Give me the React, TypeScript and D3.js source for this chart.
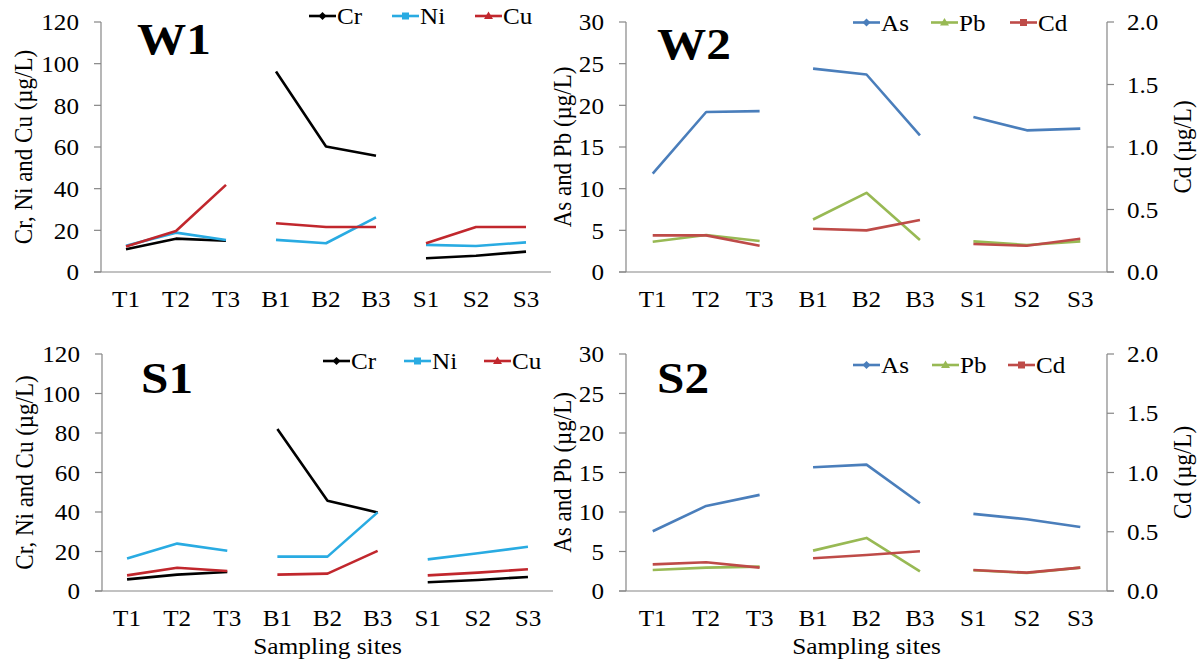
import React from "react";
import * as d3 from "d3";

const sites = ["T1", "T2", "T3", "B1", "B2", "B3", "S1", "S2", "S3"];

// W1 (µg/L)
const w1Cr = [10.9, 16.0, 15.0, 96.2, 60.2, 55.8, 6.6, 7.8, 9.8];
const w1Ni = [12.6, 18.9, 15.4, 15.4, 13.8, 26.2, 13.0, 12.5, 14.2];
const w1Cu = [12.2, 19.7, 41.8, 23.4, 21.6, 21.6, 13.8, 21.6, 21.6];
// W2
const w2As = [11.8, 19.2, 19.3, 24.4, 23.7, 16.4, 18.6, 17.0, 17.2];
const w2Pb = [3.64, 4.44, 3.72, 6.3, 9.5, 3.84, 3.68, 3.24, 3.68];
const w2Cd = [0.293, 0.293, 0.21, 0.346, 0.333, 0.416, 0.224, 0.21, 0.266];
// S1
const s1Cr = [5.9, 8.3, 9.6, 82.0, 45.7, 39.8, 4.4, 5.6, 7.1];
const s1Ni = [16.4, 24.0, 20.4, 17.4, 17.4, 39.8, 16.0, 19.1, 22.4];
const s1Cu = [7.9, 11.8, 10.1, 8.3, 8.8, 20.3, 7.9, 9.3, 11.0];
// S2
const s2As = [7.56, 10.77, 12.17, 15.67, 16.0, 11.1, 9.76, 9.08, 8.11];
const s2Pb = [2.66, 2.96, 3.08, 5.11, 6.72, 2.49, 2.62, 2.28, 2.96];
const s2Cd = [0.225, 0.242, 0.197, 0.276, 0.304, 0.335, 0.177, 0.155, 0.197];

const ticksCrNiCu = [0, 20, 40, 60, 80, 100, 120];
const ticksAsPb = [0, 5, 10, 15, 20, 25, 30];
const ticksCd = [0, 0.5, 1.0, 1.5, 2.0];

const FONT = "'Liberation Serif', 'Times New Roman', serif";
const AXIS = "#868686";
const SX = 1.07;
const FS = 23.5;

const C_CR = "#000000";
const C_NI = "#29ABE2";
const C_CU = "#C1272D";
const C_AS = "#4A7EBB";
const C_PB = "#98B954";
const C_CD = "#BE4B48";

type Series = { name: string; values: number[]; color: string; marker: string; axis: "left" | "right" };

function SText({ x, y, anchor = "start", size = FS, weight = "normal", sx = SX, children, dy = "0" }: any) {
  return (
    <text
      transform={`translate(${x},${y}) scale(${sx},1)`}
      textAnchor={anchor}
      fontFamily={FONT}
      fontSize={size}
      fontWeight={weight}
      dy={dy}
      fill="#000"
    >
      {children}
    </text>
  );
}

function Marker({ type, x, y, color }: any) {
  if (type === "diamond") {
    const r = 4;
    return <path d={`M${x},${y - r}L${x + r},${y}L${x},${y + r}L${x - r},${y}Z`} fill={color} />;
  }
  if (type === "square") {
    return <rect x={x - 3.5} y={y - 3.5} width={7} height={7} fill={color} />;
  }
  return <path d={`M${x},${y - 4.5}L${x + 4.5},${y + 3}L${x - 4.5},${y + 3}Z`} fill={color} />;
}

function Panel({ x0, x1, yTop, yBot, label, labelPos, series, leftTicks, leftMax, rightTicks, leftTitle, rightTitle, leftTitleX, rightTitleX, legendXs, legendY, showXTitle, leftTickFmt }: any) {
  const x = d3.scaleBand<string>().domain(sites).range([x0, x1]);
  const yL = d3.scaleLinear().domain([0, leftMax]).range([yBot, yTop]);
  const yR = d3.scaleLinear().domain([0, 2]).range([yBot, yTop]);
  const cx = (s: string) => (x(s) as number) + x.bandwidth() / 2;
  const midY = (yTop + yBot) / 2;
  const groups = [sites.slice(0, 3), sites.slice(3, 6), sites.slice(6, 9)];

  return (
    <g>
      {/* left axis */}
      <line x1={x0} x2={x0} y1={yTop} y2={yBot} stroke={AXIS} strokeWidth={1.2} />
      {leftTicks.map((t: number) => (
        <g key={"lt" + t}>
          <line x1={x0 - 7} x2={x0} y1={yL(t)} y2={yL(t)} stroke={AXIS} strokeWidth={1.2} />
          <SText x={x0 - 22} y={yL(t)} anchor="end" dy="0.35em">{leftTickFmt(t)}</SText>
        </g>
      ))}
      {/* right axis */}
      {rightTicks && (
        <g>
          <line x1={x1} x2={x1} y1={yTop} y2={yBot} stroke={AXIS} strokeWidth={1.2} />
          {rightTicks.map((t: number) => (
            <g key={"rt" + t}>
              <line x1={x1} x2={x1 + 7} y1={yR(t)} y2={yR(t)} stroke={AXIS} strokeWidth={1.2} />
              <SText x={x1 + 20} y={yR(t)} anchor="start" dy="0.35em">{t.toFixed(1)}</SText>
            </g>
          ))}
        </g>
      )}
      {/* x axis */}
      <line x1={x0 - 7} x2={rightTicks ? x1 + 7 : x1} y1={yBot} y2={yBot} stroke={AXIS} strokeWidth={1.2} />
      {sites.map((s) => (
        <SText key={s} x={cx(s)} y={yBot + 35} anchor="middle">{s}</SText>
      ))}
      {showXTitle && (
        <SText x={(x0 + x1) / 2} y={yBot + 63} anchor="middle" sx={1.08}>Sampling sites</SText>
      )}
      {/* axis titles */}
      <text
        transform={`translate(${leftTitleX},${midY}) rotate(-90) scale(1,1.12)`}
        textAnchor="middle"
        dy="0.35em"
        fontFamily={FONT}
        fontSize={23}
      >
        {leftTitle}
      </text>
      {rightTitle && (
        <text
          transform={`translate(${rightTitleX},${midY}) rotate(-90) scale(1,1.12)`}
          textAnchor="middle"
          dy="0.35em"
          fontFamily={FONT}
          fontSize={23}
        >
          {rightTitle}
        </text>
      )}
      {/* lines */}
      {series.map((se: Series) => {
        const yS = se.axis === "left" ? yL : yR;
        const line = d3
          .line<string>()
          .x((s) => cx(s))
          .y((s) => yS(se.values[sites.indexOf(s)]));
        return groups.map((g, gi) => (
          <path key={se.name + gi} d={line(g) as string} fill="none" stroke={se.color} strokeWidth={2.6} strokeLinejoin="round" />
        ));
      })}
      {/* legend */}
      {series.map((se: Series, i: number) => {
        const lx = legendXs[i];
        return (
          <g key={"lg" + se.name}>
            <line x1={lx} x2={lx + 27} y1={legendY} y2={legendY} stroke={se.color} strokeWidth={2.6} />
            <Marker type={se.marker} x={lx + 13.5} y={legendY} color={se.color} />
            <SText x={lx + 28} y={legendY} dy="0.35em">{se.name}</SText>
          </g>
        );
      })}
      {/* panel label */}
      <SText x={labelPos[0]} y={labelPos[1]} size={44} weight="bold" sx={1.12}>{label}</SText>
    </g>
  );
}

export default function App() {
  const fmtInt = (t: number) => String(t);
  return (
    <svg width={1204} height={664} style={{ position: "absolute", left: 0, top: 0, background: "#fff" }}>
      <rect width={1204} height={664} fill="#fff" />
      <Panel
        x0={101} x1={551} yTop={22} yBot={272}
        label="W1" labelPos={[137, 54]}
        series={[
          { name: "Cr", values: w1Cr, color: C_CR, marker: "diamond", axis: "left" },
          { name: "Ni", values: w1Ni, color: C_NI, marker: "square", axis: "left" },
          { name: "Cu", values: w1Cu, color: C_CU, marker: "triangle", axis: "left" },
        ]}
        leftTicks={ticksCrNiCu} leftMax={120} leftTickFmt={fmtInt}
        leftTitle="Cr, Ni and Cu (µg/L)" leftTitleX={23}
        legendXs={[309, 392, 475]} legendY={16}
      />
      <Panel
        x0={626} x1={1107} yTop={22} yBot={272}
        label="W2" labelPos={[657, 59]}
        series={[
          { name: "As", values: w2As, color: C_AS, marker: "diamond", axis: "left" },
          { name: "Pb", values: w2Pb, color: C_PB, marker: "triangle", axis: "left" },
          { name: "Cd", values: w2Cd, color: C_CD, marker: "square", axis: "right" },
        ]}
        leftTicks={ticksAsPb} leftMax={30} leftTickFmt={fmtInt} rightTicks={ticksCd}
        leftTitle="As and Pb (µg/L)" leftTitleX={562}
        rightTitle="Cd (µg/L)" rightTitleX={1182}
        legendXs={[853, 931, 1010]} legendY={22.5}
      />
      <Panel
        x0={102} x1={553} yTop={354} yBot={591}
        label="S1" labelPos={[141, 393]}
        series={[
          { name: "Cr", values: s1Cr, color: C_CR, marker: "diamond", axis: "left" },
          { name: "Ni", values: s1Ni, color: C_NI, marker: "square", axis: "left" },
          { name: "Cu", values: s1Cu, color: C_CU, marker: "triangle", axis: "left" },
        ]}
        leftTicks={ticksCrNiCu} leftMax={120} leftTickFmt={fmtInt}
        leftTitle="Cr, Ni and Cu (µg/L)" leftTitleX={24}
        legendXs={[323, 404, 484]} legendY={361}
        showXTitle
      />
      <Panel
        x0={626} x1={1107} yTop={354} yBot={591}
        label="S2" labelPos={[657, 393]}
        series={[
          { name: "As", values: s2As, color: C_AS, marker: "diamond", axis: "left" },
          { name: "Pb", values: s2Pb, color: C_PB, marker: "triangle", axis: "left" },
          { name: "Cd", values: s2Cd, color: C_CD, marker: "square", axis: "right" },
        ]}
        leftTicks={ticksAsPb} leftMax={30} leftTickFmt={fmtInt} rightTicks={ticksCd}
        leftTitle="As and Pb (µg/L)" leftTitleX={562}
        rightTitle="Cd (µg/L)" rightTitleX={1182}
        legendXs={[853, 932, 1008]} legendY={365}
        showXTitle
      />
    </svg>
  );
}
